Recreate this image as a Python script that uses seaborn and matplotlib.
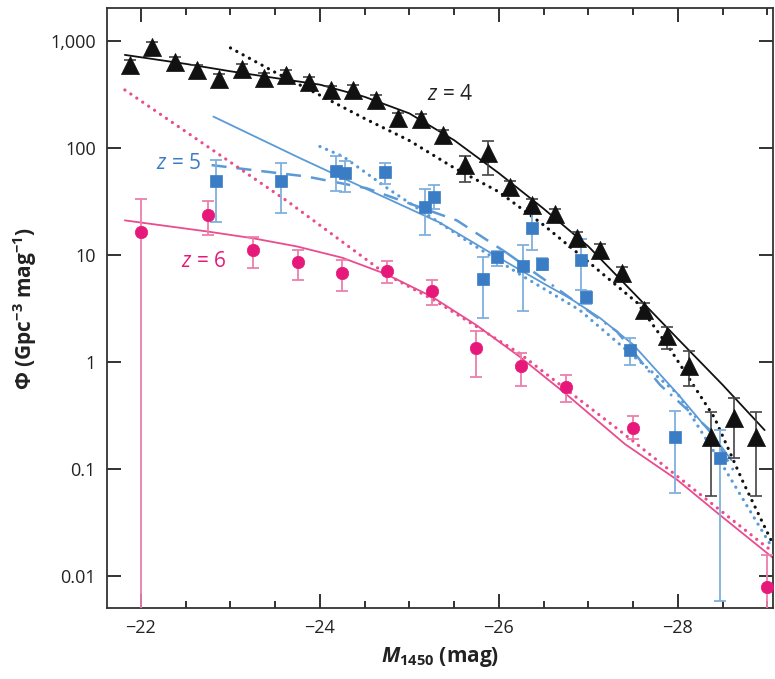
import matplotlib
matplotlib.use("Agg")
import matplotlib.pyplot as plt
import numpy as np
import seaborn as sns
from matplotlib.ticker import FixedLocator, FixedFormatter, MultipleLocator, NullLocator

# z = 4 points (triangles)
m4 = [-21.875, -22.125, -22.375, -22.625, -22.875, -23.125, -23.375, -23.625,
      -23.875, -24.125, -24.375, -24.625, -24.875, -25.125, -25.375, -25.625,
      -25.875, -26.125, -26.375, -26.625, -26.875, -27.125, -27.375, -27.625,
      -27.875, -28.125, -28.375, -28.625, -28.875]
phi4 = [597, 885, 641, 536, 441, 547, 454, 481, 417, 344, 349, 281, 189, 187,
        132, 69, 89, 43.5, 29.4, 24, 14.5, 11, 6.75, 3.06, 1.73, 0.92, 0.2,
        0.3, 0.2]
lo4 = [530, 800, 580, 480, 395, 490, 410, 435, 375, 310, 315, 252, 168, 168,
       118, 48, 56, 38, 26, 21, 12.7, 9.6, 5.8, 2.6, 1.32, 0.6, 0.056, 0.125,
       0.056]
hi4 = [665, 975, 705, 590, 490, 605, 500, 530, 460, 380, 385, 310, 210, 208,
       147, 84, 115, 49, 33, 27, 16.5, 12.5, 7.7, 3.55, 2.1, 1.25, 0.34, 0.46,
       0.34]

# z = 5 points (squares)
m5 = [-22.84, -23.57, -24.18, -24.28, -24.73, -25.17, -25.28, -25.82, -25.98,
      -26.27, -26.37, -26.48, -26.92, -26.97, -27.46, -27.97, -28.47]
phi5 = [49, 49, 61, 58, 59, 28, 34.5, 6.0, 9.5, 7.9, 18, 8.2, 8.9, 4.0, 1.29,
        0.2, 0.127]
lo5 = [20.5, 24.6, 39.4, 39, 45.6, 15.4, 27, 2.56, 7.9, 3.0, 11, 7.2, 4.7, 3.5,
       0.94, 0.059, 0.0058]
hi5 = [77, 73, 84, 76, 72, 41, 45, 9.5, 10.8, 12.4, 27.5, 9.3, 14.2, 4.6, 1.68,
       0.35, 0.23]

# z = 6 points (circles)
m6 = [-22.0, -22.75, -23.25, -23.75, -24.25, -24.75, -25.25, -25.75, -26.25,
      -26.75, -27.5, -29.0]
phi6 = [16.5, 23.6, 11.1, 8.5, 6.75, 7.1, 4.6, 1.34, 0.91, 0.58, 0.24, 0.0078]
lo6 = [1e-4, 15.3, 7.5, 5.8, 4.6, 5.5, 3.4, 0.72, 0.6, 0.42, 0.19, 1e-4]
hi6 = [33.4, 31.9, 14.6, 11.1, 8.9, 8.7, 5.8, 1.96, 1.22, 0.76, 0.31, 0.0157]

# model curves
m4_fit = [-21.82, -22.5, -23.0, -23.5, -24.0, -24.5, -25.0, -25.5, -26.0, -26.5,
          -27.0, -27.5, -28.0, -28.5, -28.97]
phi4_fit = [740, 610, 520, 450, 390, 300, 210, 118, 58, 27, 12, 4.45, 1.64,
            0.61, 0.23]
m4_dot = [-23.0, -23.5, -24.0, -24.5, -25.0, -25.5, -26.0, -26.5, -27.0, -27.55,
          -27.92, -28.41, -28.73, -29.06]
phi4_dot = [860, 508, 311, 188, 117, 65, 38.8, 19, 8.6, 3.54, 1.29, 0.3, 0.075,
            0.02]

m5_fit = [-22.81, -23.78, -24.5, -25.34, -26.0, -26.5, -26.8, -27.13, -27.5,
          -28.0, -28.43, -28.6]
phi5_fit = [196, 80, 42, 20, 9.4, 5.4, 3.9, 2.57, 1.45, 0.5, 0.187, 0.12]
m5_dash = [-22.79, -23.85, -24.52, -24.89, -25.53, -26.09]
phi5_dash = [69, 54, 42, 32.6, 21, 10.4]
m5_dashdot = [-26.09, -26.57, -27.32, -27.8, -28.36, -28.66]
phi5_dashdot = [10.4, 5.4, 1.92, 0.61, 0.23, 0.085]
m5_dot = [-24.0, -24.26, -24.78, -25.68, -26.27, -26.9, -27.5, -28.0, -28.54,
          -29.06]
phi5_dot = [103, 83, 40.5, 12.9, 6.3, 3.06, 1.14, 0.5, 0.095, 0.018]

m6_fit = [-21.82, -22.75, -23.25, -23.74, -24.25, -24.74, -25.25, -25.75,
          -26.23, -26.75, -27.41, -28.0, -28.47, -29.06]
phi6_fit = [21, 16.5, 14.3, 12.0, 9.4, 6.6, 4.07, 2.2, 1.12, 0.5, 0.17, 0.078,
            0.037, 0.0148]
m6_dot = [-21.82, -23.63, -24.75, -25.27, -26.23, -27.41, -28.99, -29.06]
phi6_dot = [348, 32, 6.5, 3.8, 1.2, 0.208, 0.0186, 0.017]

black = "#111111"
blue = "#3b7dc4"
blue_line = "#5b9ad6"
blue_err = "#7fb0dd"
pink = "#e6197a"
pink_line = "#ea4c8e"
pink_err = "#ec7fab"

sns.set_theme(style="ticks")
plt.rcParams["font.family"] = ["Open Sans", "DejaVu Sans"]
plt.rcParams["mathtext.fontset"] = "custom"
plt.rcParams["mathtext.rm"] = "Open Sans"
plt.rcParams["mathtext.it"] = "Open Sans:italic"
plt.rcParams["mathtext.bf"] = "Open Sans:bold"
plt.rcParams["mathtext.bfit"] = "Open Sans:bold:italic"

fig = plt.figure(figsize=(7.75, 6.79), dpi=100)
ax = fig.add_axes([0.138, 0.1046, 0.859, 0.8836])
ax.set_yscale("log")

dot = dict(linestyle=(0, (0.05, 2.2)), dash_capstyle="round", lw=2.3)

# curves
sns.lineplot(x=m4_fit, y=phi4_fit, ax=ax, color=black, lw=1.3, sort=False,
             estimator=None)
sns.lineplot(x=m4_dot, y=phi4_dot, ax=ax, color=black, sort=False,
             estimator=None, **dot)
sns.lineplot(x=m5_fit, y=phi5_fit, ax=ax, color=blue_line, lw=1.3, sort=False,
             estimator=None)
sns.lineplot(x=m5_dash, y=phi5_dash, ax=ax, color=blue_line, lw=1.8, sort=False,
             estimator=None, linestyle=(0, (6, 4)))
sns.lineplot(x=m5_dashdot, y=phi5_dashdot, ax=ax, color=blue_line, lw=1.8,
             sort=False, estimator=None, linestyle=(0, (6, 3, 1, 3)))
sns.lineplot(x=m5_dot, y=phi5_dot, ax=ax, color=blue_line, sort=False,
             estimator=None, **dot)
sns.lineplot(x=m6_fit, y=phi6_fit, ax=ax, color=pink_line, lw=1.3, sort=False,
             estimator=None)
sns.lineplot(x=m6_dot, y=phi6_dot, ax=ax, color=pink_line, sort=False,
             estimator=None, **dot)

# error bars
p4, p5, p6 = np.array(phi4), np.array(phi5), np.array(phi6)
ax.errorbar(m4, p4, yerr=[p4 - np.array(lo4), np.array(hi4) - p4], fmt="none",
            ecolor="#444444", elinewidth=1.2, capsize=4, capthick=1.2, zorder=3)
ax.errorbar(m5, p5, yerr=[p5 - np.array(lo5), np.array(hi5) - p5], fmt="none",
            ecolor=blue_err, elinewidth=1.3, capsize=4, capthick=1.3, zorder=3)
ax.errorbar(m6, p6, yerr=[p6 - np.array(lo6), np.array(hi6) - p6], fmt="none",
            ecolor=pink_err, elinewidth=1.3, capsize=4, capthick=1.3, zorder=3)

# markers
sns.scatterplot(x=m4, y=phi4, ax=ax, marker="^", s=170, color=black,
                edgecolor=black, linewidth=0.5, zorder=4)
sns.scatterplot(x=m5, y=phi5, ax=ax, marker="s", s=70, color=blue,
                edgecolor=blue, linewidth=0.5, zorder=4)
sns.scatterplot(x=m6, y=phi6, ax=ax, marker="o", s=80, color=pink,
                edgecolor=pink, linewidth=0.5, zorder=4)

# labels on curves
ax.text(-25.2, 313, "$z$ = 4", color="#222222", fontsize=15, va="center")
ax.text(-22.17, 72, "$z$ = 5", color=blue, fontsize=15, va="center")
ax.text(-22.45, 8.6, "$z$ = 6", color=pink, fontsize=15, va="center")

ax.set_xlim(-21.62, -29.06)
ax.set_ylim(0.005, 2030)

ax.xaxis.set_major_locator(FixedLocator([-22, -24, -26, -28]))
ax.xaxis.set_major_formatter(FixedFormatter(["\u221222", "\u221224", "\u221226", "\u221228"]))
ax.xaxis.set_minor_locator(MultipleLocator(0.5))
yt = [0.01, 0.1, 1, 10, 100, 1000]
ax.yaxis.set_major_locator(FixedLocator(yt))
ax.yaxis.set_major_formatter(FixedFormatter(["0.01", "0.1", "1", "10", "100", "1,000"]))
ax.yaxis.set_minor_locator(NullLocator())

ax.tick_params(which="both", direction="in", top=True, right=True,
               colors="#222222", labelsize=13, width=1.3)
ax.tick_params(which="major", length=10, pad=8)
ax.tick_params(which="minor", length=5)
for sp in ax.spines.values():
    sp.set_color("#333333")
    sp.set_linewidth(1.3)

ax.set_xlabel(r"$\mathbfit{M}_{\mathbf{1450}}$ (mag)", fontsize=15,
              fontweight="bold", color="#222222", labelpad=6)
ax.set_ylabel(r"$\mathbf{\Phi}$ (Gpc$^{\mathbf{-3}}$ mag$^{\mathbf{-1}}$)",
              fontsize=15, fontweight="bold", color="#222222", labelpad=8)

fig.savefig("out.png", dpi=100)
